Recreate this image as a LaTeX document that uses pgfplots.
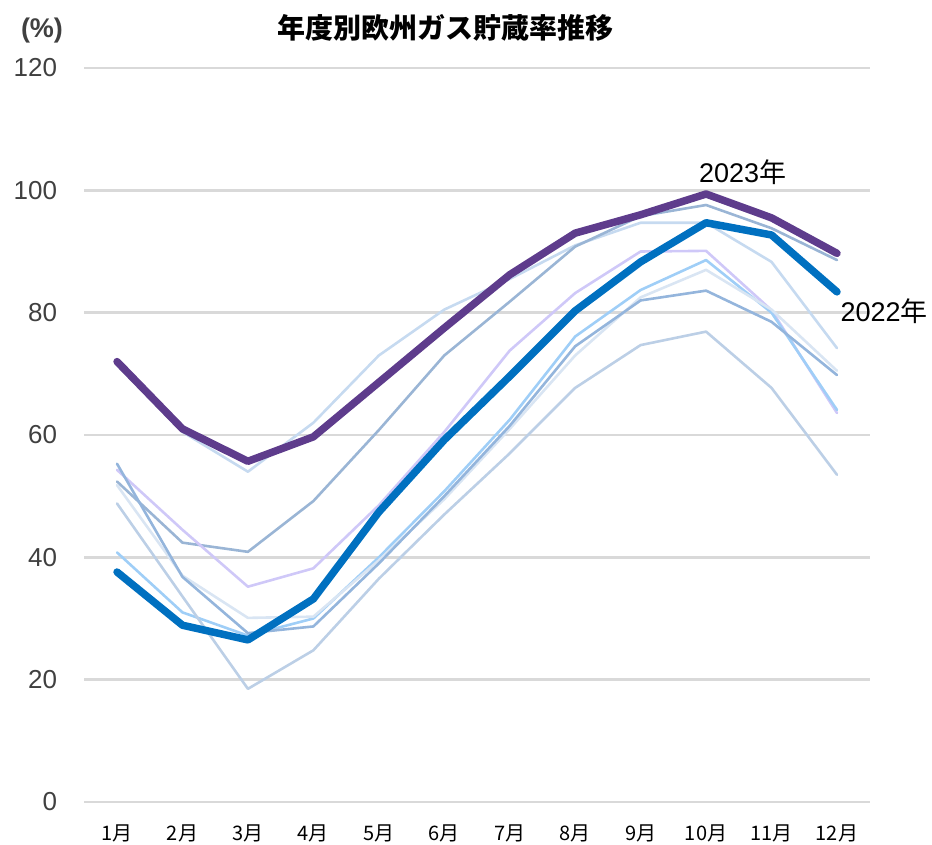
\documentclass[border=0pt]{standalone}
\usepackage{fontspec}
\setmainfont{Liberation Sans}
\newfontfamily\jp{Noto Sans CJK JP}
\usepackage{pgfplots}
\pgfplotsset{compat=1.18}

\definecolor{c23}{HTML}{5E3C8C}
\definecolor{c22}{HTML}{0070C0}
\definecolor{la}{HTML}{C6DAF0}
\definecolor{lb}{HTML}{9AB5D5}
\definecolor{lc}{HTML}{CFC8F8}
\definecolor{ld}{HTML}{9FCEF7}
\definecolor{le}{HTML}{BCCFE6}
\definecolor{lf}{HTML}{D9E5F3}
\definecolor{lg}{HTML}{94B5DC}
\definecolor{gridc}{HTML}{D9D9D9}
\definecolor{tickc}{HTML}{404040}

\begin{document}
\begin{tikzpicture}
\begin{axis}[
    name=ax,
    scale only axis,
    width=785.4bp,
    height=734bp,
    xmin=0.5, xmax=12.5,
    ymin=0, ymax=120,
    ytick={0,20,...,120},
    xtick={1,...,12},
    xticklabels={1月,2月,3月,4月,5月,6月,7月,8月,9月,10月,11月,12月},
    axis line style={draw=none},
    tick style={draw=none},
    major tick length=0pt,
    ymajorgrids,
    grid style={line width=2.6bp, gridc},
    clip=false,
    no markers,
    /pgf/number format/assume math mode=true,
    yticklabel style={font=\fontsize{26bp}{26bp}\selectfont, text=tickc, anchor=east, inner sep=0pt, xshift=-27bp},
    xticklabel style={font=\jp\fontsize{20bp}{20bp}\selectfont, anchor=center, inner sep=0pt, yshift=-31bp},
    every axis plot/.append style={line join=round, line cap=round},
]

% past years
\addplot[la, line width=2.6bp] coordinates {
    (1,71.5) (2,60.5) (3,54) (4,62) (5,73) (6,80.5) (7,85.5) (8,91) (9,94.7) (10,94.7) (11,88.3) (12,74.2)
};
\addplot[lb, line width=2.6bp] coordinates {
    (1,52.4) (2,42.4) (3,40.9) (4,49.2) (5,60.8) (6,73) (7,81.8) (8,90.8) (9,95.8) (10,97.6) (11,93.8) (12,88.6)
};
\addplot[lc, line width=2.6bp] coordinates {
    (1,54.3) (2,44.5) (3,35.2) (4,38.2) (5,48.5) (6,60.5) (7,73.8) (8,83.2) (9,90) (10,90.1) (11,80.4) (12,63.6)
};
\addplot[ld, line width=2.6bp] coordinates {
    (1,40.8) (2,31) (3,27.2) (4,30) (5,40) (6,50.8) (7,62.5) (8,76.1) (9,83.7) (10,88.6) (11,80) (12,64.1)
};
\addplot[le, line width=2.6bp] coordinates {
    (1,48.8) (2,33.6) (3,18.5) (4,24.8) (5,36.5) (6,47) (7,57) (8,67.7) (9,74.7) (10,76.9) (11,67.7) (12,53.5)
};
\addplot[lf, line width=2.6bp] coordinates {
    (1,51.8) (2,37) (3,30.1) (4,30.3) (5,39.5) (6,49.5) (7,61) (8,73) (9,82.5) (10,87) (11,80.5) (12,70.5)
};
\addplot[lg, line width=2.6bp] coordinates {
    (1,55.3) (2,36.8) (3,27.6) (4,28.7) (5,39) (6,50) (7,61.5) (8,74.5) (9,82) (10,83.6) (11,78.5) (12,69.8)
};

% 2022
\addplot[c22, line width=7.5bp] coordinates {
    (1,37.6) (2,28.9) (3,26.5) (4,33.2) (5,47.4) (6,59.2) (7,69.6) (8,80.3) (9,88.3) (10,94.7) (11,92.7) (12,83.4)
};
% 2023
\addplot[c23, line width=7.5bp] coordinates {
    (1,72) (2,61) (3,55.7) (4,59.7) (5,68.6) (6,77.5) (7,86.2) (8,93) (9,96) (10,99.4) (11,95.5) (12,89.7)
};

\node[font=\fontsize{27bp}{27bp}\selectfont, inner sep=0pt] at (axis cs:10.56,103) {2023{\jp 年}};
\node[font=\fontsize{27bp}{27bp}\selectfont, inner sep=0pt] at (axis cs:12.72,80.3) {2022{\jp 年}};
\end{axis}

\node[font=\jp\bfseries\fontsize{28bp}{28bp}\selectfont, inner sep=0pt] at ([shift={(360.7bp,40bp)}]ax.north west) {年度別欧州ガス貯蔵率推移};
\node[font=\bfseries\fontsize{27bp}{27bp}\selectfont, text=tickc, inner sep=0pt] at ([shift={(-42.3bp,37bp)}]ax.north west) {(\%)};

\pgfresetboundingbox
\path ([shift={(-84.3bp,-43bp)}]ax.south west) rectangle ([shift={(62.3bp,68bp)}]ax.north east);
\end{tikzpicture}
\end{document}
